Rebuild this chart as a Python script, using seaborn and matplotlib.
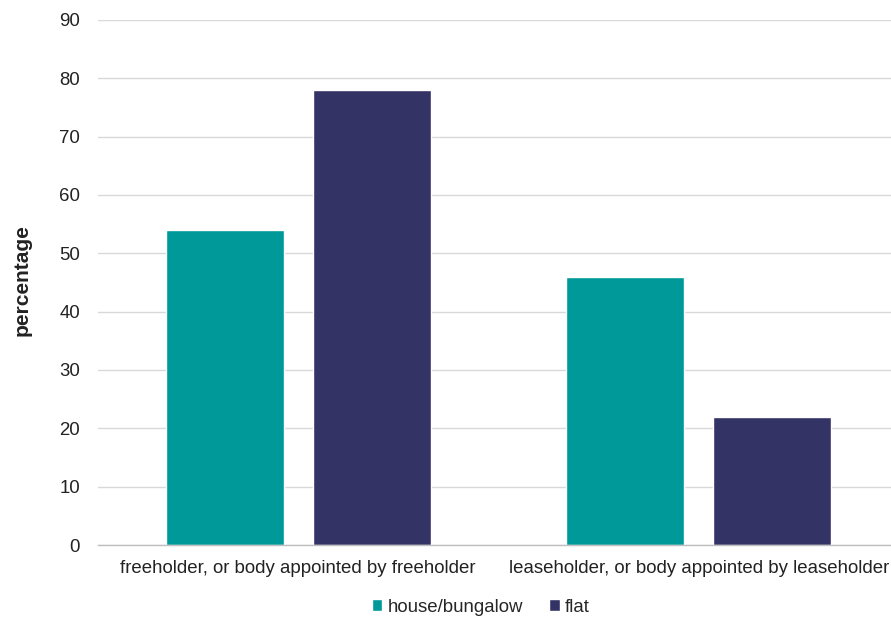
import matplotlib
matplotlib.use("Agg")
import matplotlib.pyplot as plt
import seaborn as sns
import pandas as pd

categories = ["freeholder, or body appointed by freeholder",
              "leaseholder, or body appointed by leaseholder"]
series = ["house/bungalow", "flat"]
house_values = [54, 46]
flat_values = [78, 22]
colors = ["#009999", "#333366"]
y_ticks = [0, 10, 20, 30, 40, 50, 60, 70, 80, 90]

df = pd.DataFrame({
    "category": categories * 2,
    "type": [series[0]] * 2 + [series[1]] * 2,
    "value": house_values + flat_values,
})

sns.set_theme(style="white")
plt.rcParams["font.family"] = ["Liberation Sans", "DejaVu Sans"]

fig = plt.figure(figsize=(8.91, 6.19), dpi=100)
ax = fig.add_axes([98 / 891, 74 / 619, 801 / 891, 525 / 619])

sns.barplot(data=df, x="category", y="value", hue="type", order=categories,
            hue_order=series, palette=colors, width=0.735, gap=0.2,
            saturation=1, ax=ax, legend=True)

ax.set_ylim(0, 90)
ax.set_xlim(-0.5, 1.5)
ax.set_yticks(y_ticks)
ax.yaxis.grid(True, color="#d9d9d9", linewidth=1)
ax.set_axisbelow(True)
for side in ["top", "right", "left"]:
    ax.spines[side].set_visible(False)
ax.spines["bottom"].set_color("#bfbfbf")
ax.spines["bottom"].set_linewidth(1)
ax.tick_params(axis="both", length=0, labelsize=13.4, colors="#222222")
ax.tick_params(axis="y", pad=13)
ax.tick_params(axis="x", pad=11)
ax.set_xlabel("")
ax.set_ylabel("percentage", fontsize=15, fontweight="bold", color="#222222")
ax.yaxis.set_label_coords(-66 / 801, 0.5 + 2 / 525)

handles, labels = ax.get_legend_handles_labels()
ax.legend(handles, labels, loc="center", bbox_to_anchor=(481 / 891, 12 / 619),
          bbox_transform=fig.transFigure, ncol=2, frameon=False, fontsize=13.4,
          handlelength=0.55, handleheight=0.55, handletextpad=0.3, columnspacing=1.4)

fig.savefig("out.png", dpi=100)
